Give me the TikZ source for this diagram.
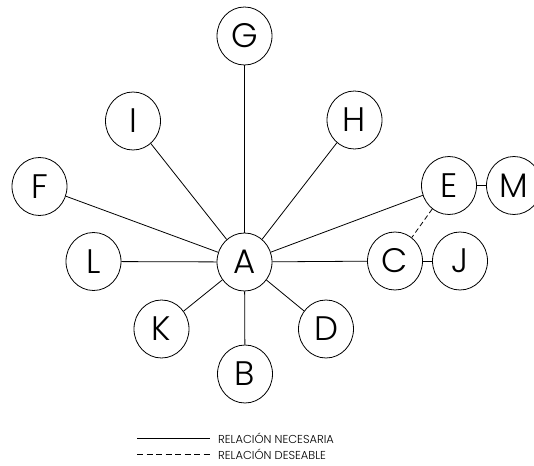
\documentclass[tikz,border=0pt]{standalone}
\usepackage{fontspec}
\setmainfont{Poppins Light}
\begin{document}
\begin{tikzpicture}[x=1pt,y=-1pt,
  nd/.style={draw,ellipse,minimum width=55pt,minimum height=58pt,inner sep=0pt,line width=0.8pt,font=\fontsize{34}{34}\selectfont},
  ln/.style={line width=0.8pt},
  dln/.style={line width=0.8pt,dash pattern=on 5pt off 3pt},
  lgd/.style={line width=0.8pt,dash pattern=on 6pt off 3.5pt},
  lg/.style={font=\fontsize{11.5}{12}\selectfont,anchor=west,inner sep=0pt}]
\useasboundingbox (0,0) rectangle (534,465);
\usetikzlibrary{shapes.geometric}
\node[nd] (A) at (244.5,262) {A};
\node[nd] (G) at (244.5,36) {G};
\node[nd] (I) at (133,121) {I};
\node[nd] (H) at (354.5,120) {H};
\node[nd] (F) at (39.5,186.5) {F};
\node[nd] (E) at (449,185.5) {E};
\node[nd] (M) at (514,185.5) {M};
\node[nd] (L) at (93.5,261.5) {L};
\node[nd] (C) at (395,261) {C};
\node[nd] (J) at (460,261) {J};
\node[nd] (K) at (161.5,329) {K};
\node[nd] (D) at (326,329) {D};
\node[nd] (B) at (245,374) {B};
\foreach \n in {G,I,H,F,E,L,C,K,D,B} \draw[ln] (A) -- (\n);
\draw[ln] (E) -- (M);
\draw[ln] (C) -- (J);
\draw[dln] (E) -- (C);
\coordinate (s1) at (137,438.5);
\coordinate (s2) at (210,438.5);
\coordinate (d1) at (137,454.5);
\coordinate (d2) at (210,454.5);
\draw[ln] (s1) -- (s2);
\draw[lgd] (d1) -- (d2);
\node[lg] (t1) at (218,438.5) {RELACIÓN NECESARIA};
\node[lg] (t2) at (218,454.5) {RELACIÓN DESEABLE};
\end{tikzpicture}
\end{document}
